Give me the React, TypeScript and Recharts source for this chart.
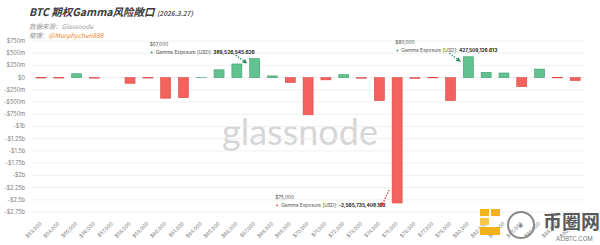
import React from 'react';
import { BarChart, Bar, XAxis, YAxis, CartesianGrid } from 'recharts';

// strikes (x categories) and gamma exposure per strike, in $m
const strikes = [
  '$53,000', '$54,000', '$55,000', '$56,000', '$57,000', '$58,000', '$59,000', '$60,000',
  '$61,000', '$64,000', '$65,000', '$66,000', '$67,000', '$68,000', '$69,000', '$70,000',
  '$71,000', '$72,000', '$73,000', '$74,000', '$75,000', '$76,000', '$77,000', '$78,000',
  '$80,000', '$82,000', '$84,000', '$85,000', '$86,000', '$88,000', '$90,000',
];
const gammaExposure = [
  -8, -8, 80, -10, 0, -115, -8, -420,
  -410, 3, 160, 280, 389.53, 35, -100, -760,
  -45, 60, -12, -470, -2565.74, -15, -5, -470,
  427.51, 108, 95, -185, 175, -5, -60,
];
const yTicks = [750, 500, 250, 0, -250, -500, -750, -1000, -1250, -1500, -1750, -2000, -2250, -2500, -2750];

// highlighted strikes with their exact exposure text
const noteStrikes = ['$67,000', '$80,000', '$75,000'];
const noteValues = ['389,526,545.626', '427,509,126.613', '-2,565,735,408.163'];

const data = strikes.map((strike, i) => ({ strike, value: gammaExposure[i] }));

const GREEN = '#62c28f';
const GREEN_DARK = '#3f9c6d';
const RED = '#f4625e';
const RED_DARK = '#d84843';

const fmtY = (v: number) => {
  if (v === 0) return '$0';
  const sign = v < 0 ? '-' : '';
  const a = Math.abs(v);
  return a >= 1000 ? `${sign}$${a / 1000}b` : `${sign}$${a}m`;
};

const StrikeTick = (props: any) => {
  const { x, y, payload } = props;
  return (
    <text
      x={x + 1}
      y={y}
      transform={`rotate(-45 ${x + 1} ${y})`}
      textAnchor="end"
      fontSize={5}
      fill="#7a7a7a"
      fontFamily="Inter, sans-serif"
    >
      {payload.value}
    </text>
  );
};

// tooltip-like callout next to a bar
const Note = ({ index, x, top, bottom }: { index: number; x: number; top: number; bottom: number }) => {
  const k = noteStrikes.indexOf(strikes[index]);
  if (k < 0) return null;
  const positive = gammaExposure[index] >= 0;
  const color = positive ? '#2f8a5c' : '#e23a3a';

  let tx: number, ty: number, ax1: number, ay1: number, ax2: number, ay2: number;
  if (positive) {
    tx = strikes[index] === '$67,000' ? x - 100 : x - 68;
    ty = top - 12.5;
    ax1 = x - 14; ay1 = top - 3.5;
    ax2 = x - 2.5; ay2 = top + 5;
  } else {
    tx = x - 117;
    ty = bottom - 4;
    ax1 = x - 3; ay1 = bottom - 13;
    ax2 = x - 11; ay2 = bottom + 4;
  }
  const ang = Math.atan2(ay2 - ay1, ax2 - ax1);
  const hl = 4.5, hw = 2.4;
  const bx = ax2 - hl * Math.cos(ang), by = ay2 - hl * Math.sin(ang);
  const px = -Math.sin(ang) * hw, py = Math.cos(ang) * hw;

  return (
    <g fontFamily="Inter, sans-serif">
      <text x={tx} y={ty} fontSize={4.8} fill="#555">{strikes[index]}</text>
      <circle cx={tx + 2} cy={ty + 6.3} r={0.9} fill={color} />
      <text x={tx + 6} y={ty + 8} fontSize={4.8} fill="#555">
        Gamma Exposure [USD]:{' '}
        <tspan fontWeight={700} fill="#222">{noteValues[k]}</tspan>
      </text>
      <line x1={ax1} y1={ay1} x2={bx} y2={by} stroke={color} strokeWidth={1.3} strokeDasharray="1.4 1.4" />
      <polygon points={`${ax2},${ay2} ${bx + px},${by + py} ${bx - px},${by - py}`} fill={color} />
    </g>
  );
};

const GexBar = (props: any) => {
  const { x, y, width, height, index } = props;
  const top = Math.min(y, y + height);
  const h = Math.abs(height);
  const positive = gammaExposure[index] >= 0;
  return (
    <g>
      {h > 0 && (
        <rect
          x={x}
          y={top}
          width={width}
          height={h}
          fill={positive ? GREEN : RED}
          stroke={positive ? GREEN_DARK : RED_DARK}
          strokeWidth={0.6}
        />
      )}
      <Note index={index} x={x} top={top} bottom={top + h} />
    </g>
  );
};

export default function App() {
  return (
    <div style={{ position: 'absolute', left: 0, top: 0, width: 600, height: 245, background: '#fff', overflow: 'hidden' }}>
      <div style={{ position: 'absolute', left: 29, top: 4, whiteSpace: 'nowrap', fontFamily: '"Noto Sans CJK SC", "Noto Sans", sans-serif', fontStyle: 'italic', fontWeight: 700, color: '#3a3a3a', fontSize: 10.5, lineHeight: '16px' }}>
        BTC 期权Gamma风险敞口 <span style={{ fontSize: 6.5, color: '#555' }}>(2026.3.27)</span>
      </div>
      <div style={{ position: 'absolute', left: 29, top: 21, whiteSpace: 'nowrap', fontFamily: '"Noto Sans CJK SC", "Noto Sans", sans-serif', fontStyle: 'italic', color: '#9a9a9a', fontSize: 6.5, lineHeight: '10px' }}>
        数据来源：Glassnode
      </div>
      <div style={{ position: 'absolute', left: 29, top: 30, whiteSpace: 'nowrap', fontFamily: '"Noto Sans CJK SC", "Noto Sans", sans-serif', fontStyle: 'italic', color: '#9a9a9a', fontSize: 6.5, lineHeight: '10px' }}>
        整理：<span style={{ color: '#e8852a' }}>@Murphychen888</span>
      </div>

      <div style={{ position: 'absolute', left: 222, top: 110, fontFamily: 'Lato, sans-serif', fontSize: 36, color: '#d6d6d6', pointerEvents: 'none', lineHeight: '42px' }}>
        glassnode
      </div>

      <div style={{ position: 'absolute', left: 0, top: 0 }}>
        <BarChart
          width={600}
          height={245}
          data={data}
          margin={{ top: 41, right: 16, bottom: 3, left: 0 }}
          barSize={10}
        >
          <CartesianGrid vertical={false} stroke="#ececec" strokeWidth={0.8} />
          <XAxis
            dataKey="strike"
            interval={0}
            tick={<StrikeTick />}
            tickLine={false}
            axisLine={false}
            tickSize={0}
            tickMargin={12}
            height={30}
          />
          <YAxis
            width={32}
            domain={[-2750, 750]}
            ticks={yTicks}
            interval={0}
            tickFormatter={fmtY}
            tickLine={false}
            axisLine={false}
            tickSize={0}
            tickMargin={7}
            tick={{ fontSize: 5.5, fill: '#7a7a7a', fontFamily: 'Inter, sans-serif' }}
          />
          <Bar dataKey="value" isAnimationActive={false} shape={<GexBar />} />
        </BarChart>
      </div>

      {/* ALIBTC watermark, bottom right */}
      <svg style={{ position: 'absolute', left: 476, top: 203 }} width={124} height={42}>
        <rect x={4} y={6} width={9} height={7} fill="#f1b21c" />
        <rect x={15} y={6} width={9} height={7} fill="#f1b21c" />
        <rect x={4} y={15} width={9} height={7} fill="#f7c64a" />
        <rect x={4} y={24} width={20} height={8} fill="#f1b21c" />
        <circle cx={45} cy={22} r={13} fill="none" stroke="#8a8a8a" strokeWidth={2} />
        <text x={45} y={26} textAnchor="middle" fontSize={9} fill="#888">✦</text>
        <text x={67} y={26} fontSize={19} fontWeight={700} fill="#5a5a5a" fontFamily='"Noto Sans CJK SC", sans-serif'>币圈网</text>
        <text x={80} y={38} fontSize={6} fill="#777" fontFamily="Inter, sans-serif">ALIBTC.COM</text>
      </svg>
    </div>
  );
}
